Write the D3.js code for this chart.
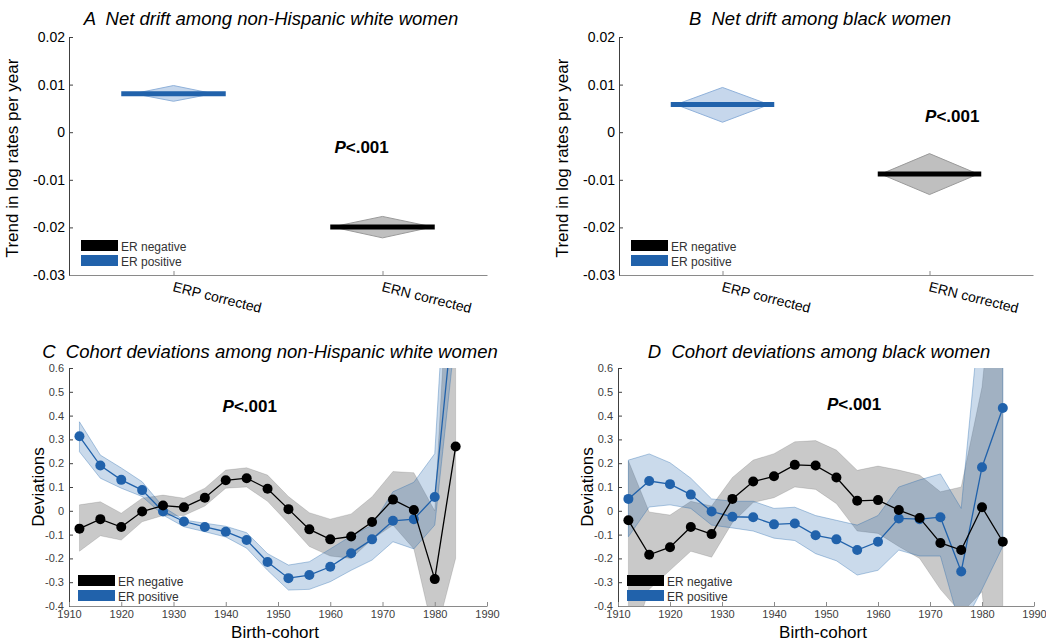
<!DOCTYPE html>
<html>
<head>
<meta charset="utf-8">
<script src="https://cdn.jsdelivr.net/npm/d3@7"></script>
<style>
    body { margin: 0; background: #fff; }
    svg { display: block; font-family: "Liberation Sans", Arial, sans-serif; }
</style>
</head>
<body>
<div id="chart"></div>
<script>
// Net drift (panels A and B)
const driftCategories = ['ERP corrected', 'ERN corrected'];
const driftTicks = [-0.03, -0.02, -0.01, 0, 0.01, 0.02];

const whiteDrift = [0.0081, -0.0199];
const whiteDriftLow = [0.0065, -0.0222];
const whiteDriftHigh = [0.0098, -0.0177];

const blackDrift = [0.0058, -0.0088];
const blackDriftLow = [0.0021, -0.0131];
const blackDriftHigh = [0.0094, -0.0045];

// Cohort deviations (panels C and D)
const cohorts = [1912, 1916, 1920, 1924, 1928, 1932, 1936, 1940, 1944, 1948,
                 1952, 1956, 1960, 1964, 1968, 1972, 1976, 1980, 1984];
const cohortTicks = [1910, 1920, 1930, 1940, 1950, 1960, 1970, 1980, 1990];
const deviationTicks = [-0.4, -0.3, -0.2, -0.1, 0, 0.1, 0.2, 0.3, 0.4, 0.5, 0.6];

const whiteNeg = [-0.075, -0.035, -0.068, -0.003, 0.022, 0.015, 0.055, 0.128, 0.137, 0.093,
                  0.007, -0.078, -0.12, -0.108, -0.047, 0.047, 0.003, -0.287, 0.27];
const whiteNegLow = [-0.17, -0.105, -0.123, -0.046, -0.02, -0.02, 0.02, 0.095, 0.1, 0.04,
                     -0.053, -0.15, -0.19, -0.2, -0.12, -0.06, -0.16, -0.54, -0.2];
const whiteNegHigh = [0.025, 0.038, -0.01, 0.053, 0.066, 0.053, 0.095, 0.171, 0.181, 0.15,
                      0.06, -0.008, -0.035, -0.013, 0.059, 0.165, 0.16, 0.0, 1.6];

const whitePos = [0.313, 0.19, 0.13, 0.087, -0.003, -0.045, -0.068, -0.088, -0.123, -0.215,
                  -0.283, -0.27, -0.235, -0.178, -0.12, -0.042, -0.035, 0.058, 0.93];
const whitePosLow = [0.248, 0.137, 0.095, 0.06, -0.018, -0.067, -0.088, -0.11, -0.157, -0.25,
                     -0.333, -0.33, -0.298, -0.25, -0.207, -0.13, -0.16, -0.06, 0.75];
const whitePosHigh = [0.374, 0.234, 0.18, 0.122, 0.017, -0.039, -0.052, -0.065, -0.092, -0.18,
                      -0.228, -0.214, -0.16, -0.106, -0.06, 0.08, 0.12, 0.24, 1.7];

const blackNeg = [-0.04, -0.185, -0.153, -0.068, -0.098, 0.05, 0.123, 0.145, 0.193, 0.19,
                  0.14, 0.042, 0.045, 0.003, -0.03, -0.135, -0.165, 0.015, -0.13];
const blackNegLow = [-0.6, -0.33, -0.25, -0.17, -0.195, -0.05, 0.035, 0.055, 0.1, 0.09,
                     0.03, -0.085, -0.095, -0.15, -0.2, -0.33, -0.43, -0.34, -1.2];
const blackNegHigh = [0.21, -0.005, -0.018, 0.04, 0.02, 0.14, 0.213, 0.24, 0.29, 0.295,
                      0.255, 0.17, 0.188, 0.171, 0.15, 0.08, 0.1, 0.52, 1.4];

const blackPos = [0.05, 0.125, 0.112, 0.068, -0.003, -0.025, -0.027, -0.057, -0.053, -0.103,
                  -0.12, -0.165, -0.13, -0.032, -0.035, -0.027, -0.255, 0.183, 0.432];
const blackPosLow = [-0.109, 0.016, 0.025, 0.01, -0.06, -0.072, -0.085, -0.115, -0.125, -0.18,
                     -0.21, -0.27, -0.25, -0.165, -0.19, -0.19, -0.5, -0.33, -0.15];
const blackPosHigh = [0.213, 0.239, 0.202, 0.137, 0.05, 0.04, 0.04, 0.01, 0.015, -0.02,
                      -0.04, -0.06, -0.02, 0.1, 0.13, 0.155, 0.01, 0.92, 1.1];

const seriesNames = ['ER negative', 'ER positive'];

const colors = {
    neg: '#000000',
    pos: '#2162ab',
    negBand: 'rgba(0,0,0,0.21)',
    posBand: 'rgba(33,102,172,0.24)',
    negEdge: 'rgba(0,0,0,0.12)',
    posEdge: 'rgba(33,102,172,0.35)',
    leftAxis: '#404040',
    bottomAxis: '#8a8a8a'
};

let svg = d3.select('#chart')
    .append('svg')
    .attr('width', 1046)
    .attr('height', 643);

// #region Net drift panels

function drawDriftPanel(panel) {
    let x = d3.scaleLinear().domain([0.5, 2.5]).range([panel.left, panel.right]);
    let y = d3.scaleLinear().domain([-0.03, 0.02]).range([panel.bottom, panel.top]);
    let g = svg.append('g');

    let fills = ['#c6d7ec', '#bfbfbf'];
    let edges = ['#8fb1da', '#9a9a9a'];
    let bars = [colors.pos, colors.neg];

    panel.est.forEach(function(value, i) {
        let c = i + 1;
        let hw = panel.diamond[i];
        let points = [
            [x(c - hw), y(value)],
            [x(c), y(panel.high[i])],
            [x(c + hw), y(value)],
            [x(c), y(panel.low[i])]
        ];
        g.append('path')
            .attr('d', 'M' + points.join('L') + 'Z')
            .attr('fill', fills[i])
            .attr('stroke', edges[i])
            .attr('stroke-width', 1);
    });

    panel.est.forEach(function(value, i) {
        let c = i + 1;
        g.append('line')
            .attr('x1', x(c - 0.25))
            .attr('x2', x(c + 0.25))
            .attr('y1', y(value))
            .attr('y2', y(value))
            .attr('stroke', bars[i])
            .attr('stroke-width', 5);
    });

    let yAxis = d3.axisLeft(y)
        .tickValues(driftTicks)
        .tickSizeInner(-4)
        .tickSizeOuter(0)
        .tickPadding(4)
        .tickFormat(d => d === 0 ? '0' : d.toFixed(2));

    let ya = g.append('g')
        .attr('transform', 'translate(' + panel.left + ',0)')
        .call(yAxis);
    ya.select('.domain').attr('stroke', colors.leftAxis);
    ya.selectAll('line').attr('stroke', colors.leftAxis);
    ya.selectAll('text').attr('font-size', 14).attr('fill', '#000');

    let xAxis = d3.axisBottom(x)
        .tickValues([1, 2])
        .tickSizeInner(-4)
        .tickSizeOuter(0)
        .tickFormat((d, i) => driftCategories[i]);

    let xa = g.append('g')
        .attr('transform', 'translate(0,' + panel.bottom + ')')
        .call(xAxis);
    xa.select('.domain').attr('stroke', colors.bottomAxis);
    xa.selectAll('line').attr('stroke', colors.bottomAxis);
    xa.selectAll('text')
        .attr('font-size', 14)
        .attr('fill', '#000')
        .attr('text-anchor', 'start')
        .attr('y', 0)
        .attr('dy', 0)
        .attr('transform', 'translate(-2,16) rotate(14)');

    g.append('text')
        .attr('transform', 'translate(' + (panel.left - 51) + ',' + ((panel.top + panel.bottom) / 2 + 2) + ') rotate(-90)')
        .attr('text-anchor', 'middle')
        .attr('font-size', 17)
        .text('Trend in log rates per year');

    drawTitle(g, panel);
    drawPValue(g, x(panel.pValueAt[0]), y(panel.pValueAt[1]));
    drawLegend(g, panel.left + 12, panel.bottom - 35);
}

// #endregion

// #region Cohort deviation panels

function drawCohortPanel(panel) {
    let x = d3.scaleLinear().domain([1910, 1990]).range([panel.left, panel.right]);
    let y = d3.scaleLinear().domain([-0.4, 0.6]).range([panel.bottom, panel.top]);
    let g = svg.append('g');

    let clipId = 'clip-' + panel.id;
    svg.append('clipPath')
        .attr('id', clipId)
        .append('rect')
        .attr('x', panel.left)
        .attr('y', panel.top)
        .attr('width', panel.right - panel.left)
        .attr('height', panel.bottom - panel.top);

    let plot = g.append('g').attr('clip-path', 'url(#' + clipId + ')');

    let series = [
        {values: panel.neg, low: panel.negLow, high: panel.negHigh, color: colors.neg, band: colors.negBand, edge: colors.negEdge},
        {values: panel.pos, low: panel.posLow, high: panel.posHigh, color: colors.pos, band: colors.posBand, edge: colors.posEdge}
    ];

    let area = d3.area()
        .x((d, i) => x(cohorts[i]))
        .y0(d => y(d[0]))
        .y1(d => y(d[1]));

    let line = d3.line()
        .x((d, i) => x(cohorts[i]))
        .y(d => y(d));

    series.forEach(function(s) {
        plot.append('path')
            .datum(s.low.map((lo, i) => [lo, s.high[i]]))
            .attr('d', area)
            .attr('fill', s.band)
            .attr('stroke', s.edge)
            .attr('stroke-width', 1);
    });

    // ER positive first so the black series sits on top
    series.slice().reverse().forEach(function(s) {
        plot.append('path')
            .datum(s.values)
            .attr('d', line)
            .attr('fill', 'none')
            .attr('stroke', s.color)
            .attr('stroke-width', 1.3);

        plot.selectAll(null)
            .data(s.values)
            .enter()
            .append('circle')
            .attr('cx', (d, i) => x(cohorts[i]))
            .attr('cy', d => y(d))
            .attr('r', 5)
            .attr('fill', s.color);
    });

    let yAxis = d3.axisLeft(y)
        .tickValues(deviationTicks)
        .tickSizeInner(-4)
        .tickSizeOuter(0)
        .tickPadding(5)
        .tickFormat(d => d === 0 ? '0' : d.toFixed(1));

    let ya = g.append('g')
        .attr('transform', 'translate(' + panel.left + ',0)')
        .call(yAxis);
    ya.select('.domain').attr('stroke', colors.leftAxis);
    ya.selectAll('line').attr('stroke', colors.leftAxis);
    ya.selectAll('text').attr('font-size', 11).attr('fill', '#404040');

    let xAxis = d3.axisBottom(x)
        .tickValues(cohortTicks)
        .tickSizeInner(-4)
        .tickSizeOuter(0)
        .tickPadding(4)
        .tickFormat(d3.format('d'));

    let xa = g.append('g')
        .attr('transform', 'translate(0,' + panel.bottom + ')')
        .call(xAxis);
    xa.select('.domain').attr('stroke', colors.bottomAxis);
    xa.selectAll('line').attr('stroke', colors.bottomAxis);
    xa.selectAll('text').attr('font-size', 11).attr('fill', '#404040');

    g.append('text')
        .attr('transform', 'translate(' + (panel.left - 25) + ',' + ((panel.top + panel.bottom) / 2) + ') rotate(-90)')
        .attr('text-anchor', 'middle')
        .attr('font-size', 17)
        .text('Deviations');

    g.append('text')
        .attr('x', (panel.left + panel.right) / 2 - 3)
        .attr('y', panel.bottom + 32)
        .attr('text-anchor', 'middle')
        .attr('font-size', 17)
        .text('Birth-cohort');

    drawTitle(g, panel);
    drawPValue(g, x(panel.pValueAt[0]), y(panel.pValueAt[1]));
    drawLegend(g, panel.left + 9, panel.bottom - 31);
}

// #endregion

// #region Helpers

function drawTitle(g, panel) {
    g.append('text')
        .attr('x', panel.titleX)
        .attr('y', panel.titleY)
        .attr('text-anchor', 'middle')
        .attr('font-size', 18.5)
        .attr('font-style', 'italic')
        .attr('xml:space', 'preserve')
        .text(panel.title);
}

function drawPValue(g, px, py) {
    let t = g.append('text')
        .attr('x', px)
        .attr('y', py)
        .attr('text-anchor', 'middle')
        .attr('font-size', 17)
        .attr('font-weight', 'bold');
    t.append('tspan').attr('font-style', 'italic').text('P');
    t.append('tspan').text('<.001');
}

function drawLegend(g, lx, ly) {
    let swatches = [colors.neg, colors.pos];
    seriesNames.forEach(function(name, i) {
        g.append('rect')
            .attr('x', lx)
            .attr('y', ly + i * 15)
            .attr('width', 37)
            .attr('height', 11)
            .attr('fill', swatches[i]);
        g.append('text')
            .attr('x', lx + 40)
            .attr('y', ly + i * 15 + 11)
            .attr('font-size', 12)
            .attr('fill', '#333')
            .text(name);
    });
}

// #endregion

drawDriftPanel({
    left: 69, right: 487, top: 37, bottom: 275,
    title: 'A  Net drift among non-Hispanic white women', titleX: 271, titleY: 25,
    est: whiteDrift, low: whiteDriftLow, high: whiteDriftHigh,
    diamond: [0.19, 0.24],
    pValueAt: [1.9, -0.0044]
});

drawDriftPanel({
    left: 619, right: 1033, top: 37, bottom: 275,
    title: 'B  Net drift among black women', titleX: 820, titleY: 25,
    est: blackDrift, low: blackDriftLow, high: blackDriftHigh,
    diamond: [0.225, 0.235],
    pValueAt: [2.11, 0.0021]
});

drawCohortPanel({
    id: 'c', left: 69, right: 487, top: 368, bottom: 606,
    title: 'C  Cohort deviations among non-Hispanic white women', titleX: 270, titleY: 358,
    neg: whiteNeg, negLow: whiteNegLow, negHigh: whiteNegHigh,
    pos: whitePos, posLow: whitePosLow, posHigh: whitePosHigh,
    pValueAt: [1944.6, 0.415]
});

drawCohortPanel({
    id: 'd', left: 618, right: 1034, top: 368, bottom: 606,
    title: 'D  Cohort deviations among black women', titleX: 819, titleY: 358,
    neg: blackNeg, negLow: blackNegLow, negHigh: blackNegHigh,
    pos: blackPos, posLow: blackPosLow, posHigh: blackPosHigh,
    pValueAt: [1955.4, 0.423]
});
</script>
</body>
</html>
